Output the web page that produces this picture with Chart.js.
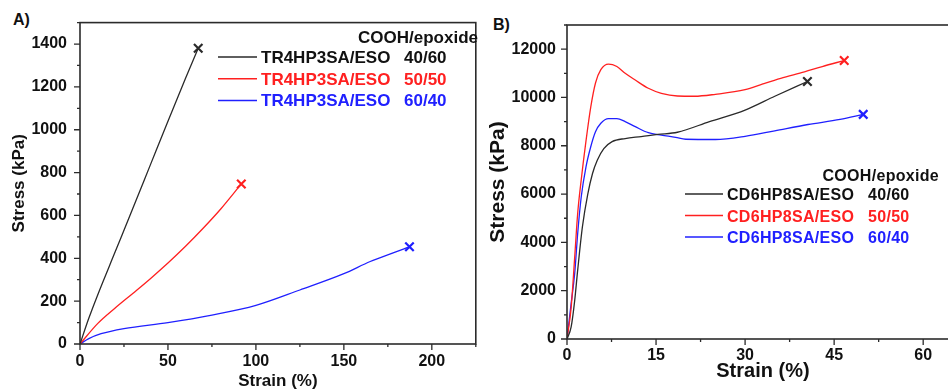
<!DOCTYPE html>
<html>
<head>
<meta charset="utf-8">
<script src="https://cdn.jsdelivr.net/npm/chart.js@4/dist/chart.umd.min.js"></script>
<style>
  html, body { margin: 0; padding: 0; background: #fff; }
  body { position: relative; width: 948px; height: 390px; overflow: hidden; font-family: "Liberation Sans", Arial, sans-serif; }
  canvas { position: absolute; top: 0; }
  #chartA { left: 0; }
  #chartB { left: 485px; }
  .tag { position: absolute; font: bold 16px "Liberation Sans", Arial, sans-serif; color: #111; }
</style>
</head>
<body>
<div class="tag" style="left:13px;top:11px">A)</div>
<div class="tag" style="left:493px;top:16px">B)</div>
<canvas id="chartA" width="484" height="400"></canvas>
<canvas id="chartB" width="482" height="400"></canvas>
<script>
// sample names and COOH/epoxide ratios
const sampleA = 'TR4HP3SA/ESO';
const sampleB = 'CD6HP8SA/ESO';
const ratios = ['40/60', '50/50', '60/40'];

// A) TR4HP3SA/ESO stress-strain curves
const strainA40 = [0, 5, 10, 20, 30, 40, 50, 60, 67.2];
const stressA40 = [0, 120, 228, 430, 632, 836, 1040, 1240, 1380];
const strainA50 = [0, 10, 20, 30, 40, 50, 60, 70, 80, 91.7];
const stressA50 = [0, 95, 168, 236, 305, 378, 456, 540, 630, 747];
const strainA60 = [0, 5, 12, 25, 50, 75, 100, 125, 150, 165, 178, 187.3];
const stressA60 = [0, 25, 48, 72, 100, 135, 180, 252, 328, 385, 425, 454];

// B) CD6HP8SA/ESO stress-strain curves
const strainB40 = [0, 0.7, 1.3, 1.8, 2.6, 3.5, 4.3, 5.1, 6.2, 7.6, 9.8, 12.5, 15.3, 18.6, 24, 30, 35, 40.5];
const stressB40 = [0, 500, 1600, 2850, 4650, 6000, 6850, 7400, 7880, 8170, 8300, 8380, 8470, 8560, 9000, 9480, 10050, 10660];
const strainB50 = [0, 0.7, 1.3, 1.8, 2.4, 3.2, 4, 4.8, 5.7, 7, 8.4, 9.8, 11.5, 13.7, 15.9, 18.6, 21.5, 25, 30, 33, 36, 40, 43, 46.7];
const stressB50 = [0, 1300, 3400, 5200, 6600, 8200, 9600, 10600, 11150, 11380, 11280, 11000, 10720, 10380, 10170, 10060, 10050, 10130, 10320, 10560, 10790, 11060, 11280, 11530];
const strainB60 = [0, 0.7, 1.3, 1.8, 2.4, 3.2, 4, 4.8, 5.7, 7, 8.4, 9.8, 11.5, 13.7, 15.9, 18.3, 20, 25, 30, 35, 40.6, 46, 49.9];
const stressB60 = [0, 1480, 2720, 4370, 5890, 7130, 7960, 8580, 8930, 9120, 9120, 9000, 8790, 8540, 8440, 8350, 8270, 8260, 8390, 8620, 8880, 9090, 9300];

const colors = ['#2a2a2a', '#ff2020', '#2020ff'];
const FONT = '"Liberation Sans", Arial, sans-serif';

function pairs(xs, ys) {
  return xs.map((x, i) => ({ x: x, y: ys[i] }));
}

function curve(label, xs, ys, color) {
  const last = xs.length - 1;
  return {
    label: label,
    data: pairs(xs, ys),
    borderColor: color,
    backgroundColor: color,
    borderWidth: 1.3,
    cubicInterpolationMode: 'monotone',
    pointStyle: 'crossRot',
    pointRadius: ctx => ctx.dataIndex === last ? 6 : 0,
    pointBorderWidth: 2.2,
    pointBorderColor: color
  };
}

// box around the plot plus outward major/minor tick marks
const frameTicks = {
  id: 'frameTicks',
  afterDraw(chart) {
    const { ctx, chartArea: a, scales } = chart;
    ctx.save();
    ctx.strokeStyle = '#2b2b2b';
    ctx.lineWidth = 1.6;
    ctx.strokeRect(a.left, a.top, a.right - a.left, a.bottom - a.top);
    ctx.lineWidth = 1.3;
    ctx.beginPath();
    scales.x.ticks.forEach(t => {
      const px = scales.x.getPixelForValue(t.value);
      if (px > a.right + 0.5) return;
      const len = t.label ? 6 : 3;
      ctx.moveTo(px, a.bottom);
      ctx.lineTo(px, a.bottom + len);
    });
    scales.y.ticks.forEach(t => {
      const py = scales.y.getPixelForValue(t.value);
      if (py < a.top - 0.5) return;
      const len = t.label ? 6 : 3;
      ctx.moveTo(a.left, py);
      ctx.lineTo(a.left - len, py);
    });
    ctx.stroke();
    ctx.restore();
  }
};

// legend drawn inside the plot: header, sample line + name + ratio
const sideLegend = {
  id: 'sideLegend',
  afterDraw(chart, args, o) {
    const ctx = chart.ctx;
    ctx.save();
    ctx.font = o.font;
    ctx.letterSpacing = o.spacing;
    ctx.textBaseline = 'alphabetic';
    ctx.fillStyle = '#111';
    ctx.textAlign = 'right';
    ctx.fillText(o.title, o.titleRight, o.titleY);
    ctx.textAlign = 'left';
    chart.data.datasets.forEach((ds, i) => {
      const y = o.rowY + i * o.rowGap;
      ctx.strokeStyle = ds.borderColor;
      ctx.lineWidth = 1.5;
      ctx.beginPath();
      ctx.moveTo(o.lineX0, y);
      ctx.lineTo(o.lineX1, y);
      ctx.stroke();
      ctx.fillStyle = i === 0 ? '#111' : ds.borderColor;
      ctx.fillText(ds.label, o.textX, y + 6);
      ctx.fillText(o.ratios[i], o.ratioX, y + 6);
    });
    ctx.restore();
  }
};

function majorLabel(step) {
  return function (v) {
    const k = v / step;
    return Math.abs(k - Math.round(k)) < 1e-6 ? String(v) : '';
  };
}

function makeChart(id, cfg) {
  return new Chart(document.getElementById(id), {
    type: 'line',
    data: { datasets: cfg.datasets },
    options: {
      responsive: false,
      animation: false,
      layout: { padding: { top: cfg.top, right: cfg.right, left: 0, bottom: 0 } },
      plugins: {
        legend: { display: false },
        tooltip: { enabled: false },
        sideLegend: cfg.legend
      },
      scales: {
        x: {
          type: 'linear',
          min: 0,
          max: cfg.xMax,
          border: { display: false },
          grid: { display: false, drawTicks: false },
          ticks: {
            stepSize: cfg.xStep,
            autoSkip: false,
            maxRotation: 0,
            padding: cfg.xPad,
            color: '#111',
            font: { family: FONT, size: 16, weight: 'bold' },
            callback: majorLabel(cfg.xMajor)
          },
          title: {
            display: true,
            text: 'Strain (%)',
            color: '#111',
            font: { family: FONT, size: cfg.xTitleSize, weight: 'bold' },
            padding: cfg.xTitlePad
          },
          afterFit: s => { s.height = cfg.xHeight; }
        },
        y: {
          min: 0,
          max: cfg.yMax,
          border: { display: false },
          grid: { display: false, drawTicks: false },
          ticks: {
            stepSize: cfg.yStep,
            autoSkip: false,
            padding: cfg.yPad,
            color: '#111',
            font: { family: FONT, size: 16, weight: 'bold' },
            callback: majorLabel(cfg.yMajor)
          },
          title: {
            display: true,
            text: 'Stress (kPa)',
            color: '#111',
            font: { family: FONT, size: cfg.yTitleSize, weight: 'bold' },
            padding: cfg.yTitlePad
          },
          afterFit: s => { s.width = cfg.yWidth; }
        }
      }
    },
    plugins: [frameTicks, sideLegend]
  });
}

makeChart('chartA', {
  datasets: [
    curve(sampleA, strainA40, stressA40, colors[0]),
    curve(sampleA, strainA50, stressA50, colors[1]),
    curve(sampleA, strainA60, stressA60, colors[2])
  ],
  top: 20, right: 1,
  xMax: 225, xStep: 25, xMajor: 50, xPad: 8, xHeight: 56, xTitleSize: 17, xTitlePad: 8,
  yMax: 1500, yStep: 100, yMajor: 200, yPad: 13, yWidth: 80, yTitleSize: 17, yTitlePad: 9,
  legend: {
    font: 'bold 17px ' + FONT, spacing: '0px',
    title: 'COOH/epoxide', titleRight: 478, titleY: 43,
    rowY: 57, rowGap: 21.7, lineX0: 218, lineX1: 257, textX: 261, ratioX: 404,
    ratios: ratios
  }
});

makeChart('chartB', {
  datasets: [
    curve(sampleB, strainB40, stressB40, colors[0]),
    curve(sampleB, strainB50, stressB50, colors[1]),
    curve(sampleB, strainB60, stressB60, colors[2])
  ],
  top: 25, right: 0,
  xMax: 66, xStep: 7.5, xMajor: 15, xPad: 7, xHeight: 61, xTitleSize: 20, xTitlePad: 17,
  yMax: 13000, yStep: 1000, yMajor: 2000, yPad: 11, yWidth: 82, yTitleSize: 21, yTitlePad: 1,
  legend: {
    font: 'bold 16px ' + FONT, spacing: '0.3px',
    title: 'COOH/epoxide', titleRight: 454, titleY: 181,
    rowY: 194, rowGap: 21.5, lineX0: 200, lineX1: 238, textX: 242, ratioX: 383,
    ratios: ratios
  }
});
</script>
</body>
</html>
